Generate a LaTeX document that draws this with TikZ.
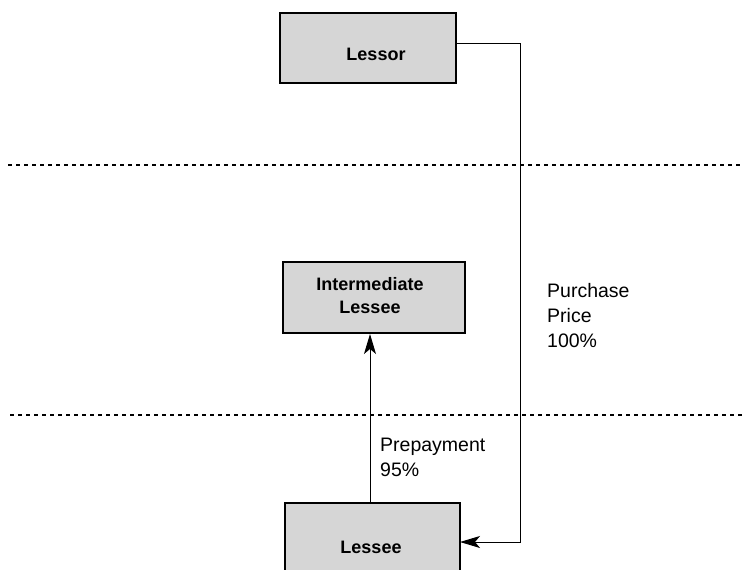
\documentclass[tikz,border=0pt]{standalone}
\usepackage{fontspec}
\setmainfont{Liberation Sans}
\usetikzlibrary{arrows.meta}
\begin{document}
\begin{tikzpicture}[x=1pt,y=-1pt,
  box/.style={draw=black, line width=1.3pt, fill=gray!32, inner sep=0pt},
  lbl/.style={font=\fontsize{19.5}{25}\selectfont, align=left, anchor=north west, inner sep=0pt},
  btxt/.style={font=\bfseries\fontsize{18}{23}\selectfont, align=center},
  sep/.style={line width=1.2pt, dash pattern=on 4pt off 4pt},
  conn/.style={line width=1pt, -{Stealth[length=20pt,width=12pt,inset=5pt]}}]
\useasboundingbox (0,0) rectangle (742,570);
\clip (0,0) rectangle (742,570);
% separators
\draw[sep] (8,165) -- (742,165);
\draw[sep] (10,415) -- (742,415);
% boxes
\draw[box] (280,13) rectangle (456,83);
\node[btxt] (lessor) at (376,54) {Lessor};
\draw[box] (283,262) rectangle (465,333);
\node[btxt] (inter) at (370,296) {Intermediate\\Lessee};
\draw[box] (285,503) rectangle (460,595);
\node[btxt] (lessee) at (371,547) {Lessee};
% named anchor points
\coordinate (lessorE) at (456,43);
\coordinate (lesseeE) at (460,542);
\coordinate (lesseeN) at (370,503);
\coordinate (interS) at (370,334);
\draw[conn] (lessorE) -- (520,43) -- (520,542) -- (lesseeE);
\draw[conn] (lesseeN) -- (interS);
% labels
\node[lbl] (pp) at (547,283) {Purchase\\Price\\100\%};
\node[lbl] (pre) at (380,438) {Prepayment\\95\%};
\end{tikzpicture}
\end{document}
